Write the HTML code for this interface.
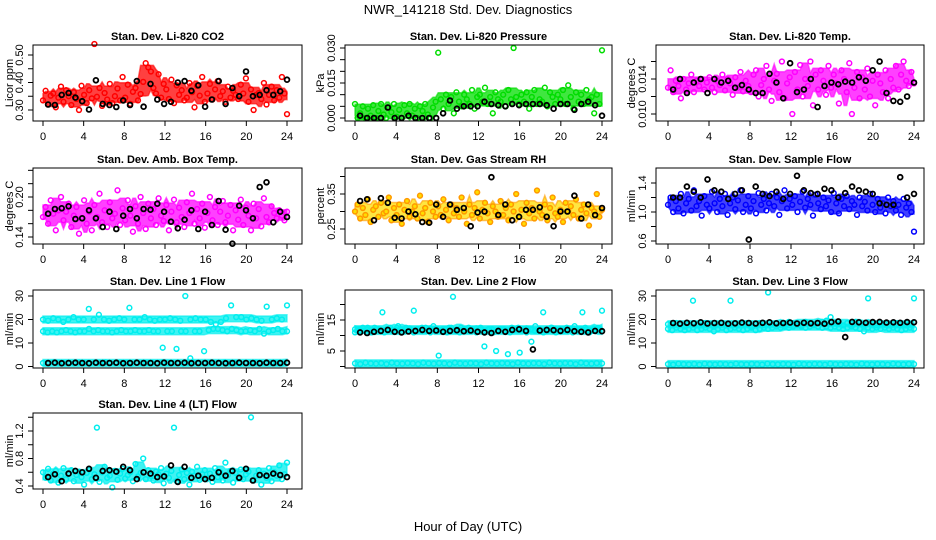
<!DOCTYPE html>
<html><head><meta charset="utf-8"><style>
html,body{margin:0;padding:0;background:#fff;}
svg{display:block;font-family:"Liberation Sans",sans-serif;}
</style></head><body>
<svg id="chart" width="936" height="540" viewBox="0 0 936 540" xmlns="http://www.w3.org/2000/svg">
<rect width="936" height="540" fill="#fff"/>
<text x="468" y="14" font-size="13" text-anchor="middle">NWR_141218  Std. Dev. Diagnostics</text>
<text x="468" y="531" font-size="13" text-anchor="middle">Hour of Day (UTC)</text>
</svg>
<script>
const hourTicks = [0,4,8,12,16,20,24];
const co2Colored = [335,370,320,352,360,310,345,385,330,372,350,318,365,340,300,388,355,325,372,342,540,348,380,315,362,338,395,325,350,378,335,420,345,392,322,366,380,335,358,402,470,455,440,380,360,430,345,395,375,340,410,325,390,355,372,335,345,398,365,310,388,352,420,330,360,395,338,375,405,350,368,330,385,345,370,355,340,392,360,415,330,375,300,355,362,340,398,320,355,385,335,372,345,420,360,285];
const co2Black = [320,318,355,362,345,332,302,408,322,318,311,335,318,405,312,395,338,322,330,400,405,370,390,312,338,405,322,380,350,440,350,355,372,355,368,410];
const presColored = [60,0,20,50,0,40,10,55,0,30,60,15,0,45,25,60,5,35,0,55,20,60,10,40,0,50,30,60,15,0,45,70,280,80,40,100,60,90,20,110,70,50,100,80,60,120,40,90,100,70,130,60,90,20,110,80,70,100,50,120,80,300,90,60,100,70,110,40,90,120,60,80,70,130,50,110,90,60,100,80,120,60,140,90,40,110,70,100,60,120,80,90,20,100,60,290];
const presBlack = [10,0,0,0,45,0,0,10,0,0,0,0,20,75,40,50,50,50,70,60,55,50,60,55,60,60,60,55,40,60,60,35,60,70,55,10];
const tempColored = [130,150,125,138,132,118,140,128,135,145,125,138,132,140,128,136,142,130,125,138,133,145,127,140,135,122,142,130,148,126,138,132,125,145,150,120,133,140,155,128,115,138,146,125,160,118,135,142,100,148,128,156,120,140,132,160,110,145,128,150,138,122,155,130,145,135,112,150,140,125,158,100,130,148,118,142,128,152,120,138,110,145,135,125,150,118,140,130,155,128,145,160,138,132,148,135];
const tempBlack = [128,140,124,136,140,124,140,136,138,130,133,128,124,124,146,136,118,158,125,128,140,108,132,136,134,137,136,142,138,150,160,124,115,114,120,136];
const ambColored = [170,185,160,195,175,150,180,200,165,178,190,155,172,185,145,168,195,160,178,150,188,170,205,162,180,155,192,168,175,210,158,183,165,195,172,148,186,160,200,176,152,190,168,182,158,198,172,164,188,150,178,196,162,184,170,155,192,176,205,160,182,168,190,154,176,200,165,185,158,178,194,162,172,188,150,180,166,196,158,184,172,150,190,168,182,156,198,170,162,186,176,168,180,172,165,178];
const ambBlack = [175,182,183,186,167,168,180,168,155,178,152,172,182,168,182,181,190,178,163,153,166,180,152,178,158,194,151,130,187,180,168,215,222,162,178,170];
const rhColored = [300,320,280,310,290,335,270,305,315,285,325,295,300,340,275,310,290,320,265,305,330,285,300,315,280,345,295,310,270,325,300,285,315,290,335,305,275,320,295,310,285,340,300,265,320,290,310,355,280,305,325,295,270,315,300,285,330,290,310,275,320,300,350,285,305,265,325,295,310,280,360,300,290,320,275,310,340,295,285,305,270,325,300,315,290,335,280,305,320,295,260,310,300,350,285,305];
const rhBlack = [330,335,275,338,325,282,280,300,292,270,268,320,285,320,305,310,258,297,300,398,290,320,275,285,305,305,312,285,258,300,300,345,280,320,290,310];
const flowColored = [110,120,100,115,105,125,98,112,118,102,130,108,115,95,122,110,105,128,112,100,118,108,125,96,112,120,104,116,130,100,110,122,105,115,98,126,110,118,102,112,125,108,120,96,115,130,105,118,110,122,100,114,128,106,118,110,95,124,112,104,120,108,116,100,126,112,98,118,108,122,104,115,110,96,120,108,114,102,125,110,100,118,106,112,98,120,108,115,102,110,96,118,106,112,100,73];
const flowBlack = [120,120,135,128,120,145,130,128,118,125,130,62,135,125,122,128,118,125,150,130,126,125,132,130,120,126,135,130,128,125,112,110,110,148,120,125];
const l1Upper = [20,19.5,20.5,20,19,20,21,20,20,24.5,20,22,20,19.5,20,20.5,20,25,20,20,21,20,19.5,20,20,20.5,20,19.5,30,20,20.5,20,20,19,18,19,20.5,26,21,21,20,20.5,20,19.5,25.5,20,20.5,20,26];
const l1Lower = [15,14.5,15,14.5,15,15.5,15,14.5,15,15,16,15,15.5,15,15,14.5,15,15.5,15,15,15.5,15,15,15.5,15,15,8,15,15,7.5,15,15,3.5,15,15,6.5,15.5,16,16,15.5,15,16,15.5,15,15,15.5,15,16,14,15,15.5,16,15,15];
const l1Bottom = [1.5,1.2,1.8,1.5,1.4,1.6,1.3,1.7,1.5,1.2,1.6,1.4,1.8,1.5,1.3,1.6,1.5,1.2,1.7,1.4,1.5,1.6,1.3,1.8,1.5,1.4,1.6,1.2,1.5,1.7,1.4,1.5,1.6,1.3,1.5,1.8,1.4,1.5,1.2,1.6,1.5,1.7,1.4,1.3,1.6,1.5,1.4,1.6];
const l1Black = [1.5,1.6,1.4,1.5,1.6,1.5,1.4,1.6,1.5,1.5,1.6,1.4,1.5,1.6,1.5,1.5,1.4,1.6,1.5,1.5,1.6,1.4,1.5,1.5,1.6,1.5,1.4,1.5,1.6,1.5,1.5,1.4,1.6,1.5,1.5,1.6];
const l2Upper = [12,11.5,12.5,12,11,12.5,12,17.5,12,12.5,11.5,13,12,12.5,12,18,12,11.5,12.5,12,13,12,11.5,12,12.5,22.5,12,12.5,12,12.5,12,11.5,12,6.5,12,12,5,12,12,4,12.5,12,4.5,12,12,8,13,12,17.5,12,12.5,12,11.5,12,12.5,12,13,12,17.5,12,11.5,12,12.5,18];
const l2Lower = [11,12,11.5,12.5,11,12,11.5,11,12,11.5,12.5,11,12,11.5,11,12,12.5,11.5,11,12,3.5,12,11,12.5,11.5,11,12,11.5,12,11,12.5,11.5,12,11,11.5,12,11.5,11,12,12.5,11.5,11,12,11.5,12,11,11.5,12.5,11,12,11.5,12,11,11.5,12,12.5,11,11.5,12,11.5];
const l2Bottom = [1,0.8,1.2,1,0.9,1.1,0.8,1.2,1,0.9,1.1,1,0.8,1.2,1,0.9,1.1,1,0.8,1.2,1,0.9,1.1,1,0.8,1.2,1,0.9,1.1,1,0.8,1.2,1,0.9,1.1,1,0.8,1.2,1,0.9,1.1,1,0.8,1.2,1,0.9,1.1,1];
const l2Black = [11,10.8,11.2,11.5,11.8,11.2,11,11.3,11.5,11.8,11.5,11.6,11.2,11.5,11.7,11.4,11.6,11.2,11,10.8,11.5,11.2,11.8,12,11.5,5.5,11.6,11.8,11.7,11.5,11.8,11.4,11.2,11,11.5,11.4];
const l3Upper = [18,17.5,18.5,18,17,18,28,18,17.5,18.5,18,17,18,18.5,17.5,28,18,17.5,18,18.5,17,18,18.5,17.5,31.5,18,18.5,17.5,18,19,18.5,18,17.5,19,18.5,18,18.5,19,19.5,21,18.5,18,17.5,18.5,18,19,18.5,18,29,18,17.5,18.5,18,17.5,18,18.5,18,17.5,18,29];
const l3Lower = [16,15.5,16.5,16,15.5,16,16.5,15.5,16,16.5,16,15,16,16.5,15.5,16,16.5,16,15.5,16,16.5,15.5,16,16.5,16,16.5,17,16.5,17,16.5,17,17.5,17,16.5,17,17.5,17,16.5,17,16.5,17,16.5,16,16.5,17,16.5,16,15,16.5,16,16.5,16,16.5,16,16.5,16,15.5,16,16.5,16];
const l3Bottom = [1,0.8,1.2,1,0.9,1.1,0.8,1.2,1,0.9,1.1,1,0.8,1.2,1,0.9,1.1,1,0.8,1.2,1,0.9,1.1,1,0.8,1.2,1,0.9,1.1,1,0.8,1.2,1,0.9,1.1,1,0.8,1.2,1,0.9,1.1,1,0.8,1.2,1,0.9,1.1,1];
const l3Black = [18.5,18.2,18.6,18.4,18.8,18.3,18.5,18.6,18.2,18.4,18.7,18.5,18.3,18.6,18.8,18.4,18.5,18.7,18.3,18.6,18.4,18.5,18.2,18.9,19.2,12.5,19,18.8,18.6,18.9,19,18.7,18.8,18.6,18.9,18.8];
const l4Colored = [60,52,65,48,58,62,45,55,66,50,58,63,47,56,61,53,42,59,64,50,57,125,46,60,68,52,55,38,62,49,58,65,51,56,60,47,72,54,59,80,50,63,55,48,61,57,66,44,58,52,62,125,47,56,64,50,59,42,61,55,68,49,57,63,51,58,46,66,53,60,48,74,56,62,45,59,52,64,50,57,61,140,48,55,63,42,58,52,66,47,60,55,70,50,57,74];
const l4Black = [53,57,47,58,62,60,65,52,62,63,61,68,63,50,60,58,53,54,70,46,68,52,55,50,52,60,55,62,52,65,48,56,55,58,56,53];

const NS = "http://www.w3.org/2000/svg";
const svg = document.getElementById('chart');
function mk(tag, attrs, parent){ const e=document.createElementNS(NS,tag); for(const k in attrs) e.setAttribute(k,attrs[k]); (parent||svg).appendChild(e); return e; }

const cols = [{bx0:33,bx1:302,h0:43,h24:287,title:9},{bx0:345,bx1:612,h0:355,h24:602,title:320},{bx0:656,bx1:924,h0:668,h24:914,title:631}];
const rows = [{y0:45,y1:121},{y0:168,y1:244},{y0:290,y1:368},{y0:413,y1:489}];

const panels = [
 {name:'co2',title:'Stan. Dev. Li-820 CO2',ylab:'Licor ppm',c:0,r:0,vA:0.30,yA:110,vB:0.50,yB:55,scale:0.001,ticks:[0.30,0.35,0.40,0.45,0.50],labels:['0.30','','0.40','','0.50'],series:[[co2Colored,'#ff0000',null,'env'],[co2Black,'#000']]},
 {name:'pressure',title:'Stan. Dev. Li-820 Pressure',ylab:'kPa',c:1,r:0,vA:0,yA:118,vB:0.030,yB:48,scale:0.0001,ticks:[0,0.005,0.010,0.015,0.020,0.025,0.030],labels:['0.000','','','0.015','','','0.030'],series:[[presColored,'#00dd00',null,'env'],[presBlack,'#000']]},
 {name:'temp',title:'Stan. Dev. Li-820 Temp.',ylab:'degrees C',c:2,r:0,vA:0.010,yA:114,vB:0.014,yB:79,scale:0.0001,ticks:[0.010,0.012,0.014,0.016],labels:['0.010','','0.014',''],series:[[tempColored,'#ff00ff',null,'env'],[tempBlack,'#000']]},
 {name:'amb-box',title:'Stan. Dev. Amb. Box Temp.',ylab:'degrees C',c:0,r:1,vA:0.14,yA:237,vB:0.20,yB:197,scale:0.001,ticks:[0.14,0.16,0.18,0.20,0.22,0.24],labels:['0.14','','','0.20','',''],series:[[ambColored,'#ff00ff',null,'env'],[ambBlack,'#000']]},
 {name:'rh',title:'Stan. Dev. Gas Stream RH',ylab:'percent',c:1,r:1,vA:0.25,yA:229,vB:0.35,yB:194,scale:0.001,ticks:[0.25,0.30,0.35,0.40],labels:['0.25','','0.35',''],series:[[rhColored,'#ff9900','#ffdd00','env'],[rhBlack,'#000']]},
 {name:'sample-flow',title:'Stan. Dev. Sample Flow',ylab:'ml/min',c:2,r:1,vA:0.6,yA:241,vB:1.4,yB:183,scale:0.01,ticks:[0.6,0.8,1.0,1.2,1.4],labels:['0.6','','1.0','','1.4'],series:[[flowColored,'#0000ff',null,'env'],[flowBlack,'#000']]},
 {name:'line1',title:'Stan. Dev. Line 1 Flow',ylab:'ml/min',c:0,r:2,vA:0,yA:366.5,vB:30,yB:296,scale:1,ticks:[0,10,20,30],labels:['0','10','20','30'],series:[[l1Upper,'#00eeee',null,'med'],[l1Lower,'#00eeee',null,'med'],[l1Bottom,'#00eeee',null,'med'],[l1Black,'#000']]},
 {name:'line2',title:'Stan. Dev. Line 2 Flow',ylab:'ml/min',c:1,r:2,vA:0,yA:366.5,vB:15,yB:320,scale:1,ticks:[0,5,10,15,20],labels:['','5','','15',''],series:[[l2Upper,'#00eeee',null,'med'],[l2Lower,'#00eeee',null,'med'],[l2Bottom,'#00eeee',null,'med'],[l2Black,'#000']]},
 {name:'line3',title:'Stan. Dev. Line 3 Flow',ylab:'ml/min',c:2,r:2,vA:0,yA:366.5,vB:30,yB:296,scale:1,ticks:[0,10,20,30],labels:['0','10','20','30'],series:[[l3Upper,'#00eeee',null,'med'],[l3Lower,'#00eeee',null,'med'],[l3Bottom,'#00eeee',null,'med'],[l3Black,'#000']]},
 {name:'line4',title:'Stan. Dev. Line 4 (LT) Flow',ylab:'ml/min',c:0,r:3,vA:0.4,yA:486,vB:1.2,yB:431,scale:0.01,ticks:[0.4,0.6,0.8,1.0,1.2,1.4],labels:['0.4','','0.8','','1.2',''],series:[[l4Colored,'#00eeee',null,'env'],[l4Black,'#000']]}
];

function hourOf(i,n,black){ return black ? 0.5+i*23.5/(n-1) : i*24/(n-1); }

panels.forEach(p=>{
  const c=cols[p.c], r=rows[p.r];
  const g=mk('g',{});
  
  
  const xs=h=>c.h0+(c.h24-c.h0)*h/24;
  const ys=v=>p.yA+(v-p.vA)*(p.yB-p.yA)/(p.vB-p.vA);
  const t=mk('text',{x:(c.bx0+c.bx1)/2,y:r.y0-5,'font-size':11,'font-weight':'bold','text-anchor':'middle'},g);
  t.textContent=p.title;
  
  
  const pts=mk('g',{fill:'none'},g);
  
  
  p.series.forEach(s=>{
    if(!s[3]) return;
    const arr=s[0], n=arr.length, up=[], lo=[];
    for(let i=0;i<n;i++){
      const w=[];
      for(let k=i-3;k<=i+3;k++) if(k>=0&&k<n) w.push(arr[k]);
      w.sort((a,b)=>a-b);
      const x=xs(hourOf(i,n,false)).toFixed(1);
      let yt,yb;
      if(s[3]==='med'){ const m=ys(w[Math.floor(w.length/2)]*p.scale); yt=m-3.5; yb=m+3.5; }
      else { yt=ys(w[w.length-2]*p.scale)-2; yb=ys(w[1]*p.scale)+2; }
      up.push(x+','+yt.toFixed(1));
      lo.unshift(x+','+yb.toFixed(1));
    }
    const band=mk('polygon',{points:up.concat(lo).join(' '),fill:s[2]||s[1],'fill-opacity':0.75,stroke:s[1],'stroke-width':1.5,'stroke-opacity':0.6},pts);
    
    
  });
  p.series.forEach(s=>{
    const arr=s[0], n=arr.length, black=s[1]==='#000';
    arr.forEach((v,i)=>{
      const yy=ys(v*p.scale);
      if(yy<r.y0-2||yy>r.y1+2) return;
      const m=mk('circle',{cx:xs(hourOf(i,n,black)).toFixed(1),cy:yy.toFixed(1),r:2.4,stroke:s[1],'stroke-width':black?1.8:1.5,fill:s[2]||'none'},pts);
      
      
    });
  });
  const box=mk('rect',{x:c.bx0,y:r.y0,width:c.bx1-c.bx0,height:r.y1-r.y0,fill:'none',stroke:'#000','stroke-width':1},g);
  
  
  const xa=mk('g',{},g);
  
  
  hourTicks.forEach(h=>{
    mk('line',{x1:xs(h),x2:xs(h),y1:r.y1,y2:r.y1+5,stroke:'#000'},xa);
    const tl=mk('text',{x:xs(h),y:r.y1+19,'font-size':11,'text-anchor':'middle'},xa);
    tl.textContent=h;
    
    
  });
  const ya=mk('g',{},g);
  
  
  p.ticks.forEach((v,i)=>{
    const yy=ys(v);
    mk('line',{x1:c.bx0-5,x2:c.bx0,y1:yy,y2:yy,stroke:'#000'},ya);
    if(p.labels[i]){
      const tl=mk('text',{x:c.bx0-10,y:yy,'font-size':11,'text-anchor':'middle',transform:`rotate(-90 ${c.bx0-10} ${yy})`},ya);
      tl.textContent=p.labels[i];
      
      
    }
  });
  const yl=mk('text',{x:c.title+4,y:(r.y0+r.y1)/2,'font-size':11,'text-anchor':'middle',transform:`rotate(-90 ${c.title+4} ${(r.y0+r.y1)/2})`},g);
  yl.textContent=p.ylab;
  
  
});
</script>
</body></html>
